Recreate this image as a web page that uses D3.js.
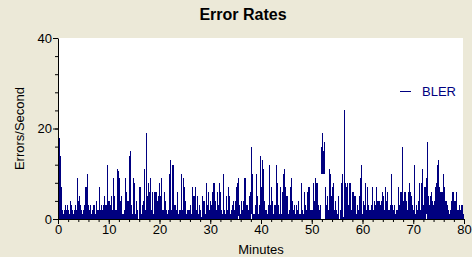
<!DOCTYPE html>
<html>
<head>
<meta charset="utf-8">
<script src="https://cdn.jsdelivr.net/npm/d3@7"></script>
<style>
  html, body { margin: 0; padding: 0; background: #ECE9D8; }
  svg { display: block; font-family: "Liberation Sans", Arial, sans-serif; }
</style>
</head>
<body>
<svg id="chart" width="472" height="257"></svg>
<script>
// --- données : max par colonne (80 min, ~12 s par colonne) ---
const blerMax = [
  // 0 - 13 min
  2, 18, 14, 7, 2, 1, 2, 3, 2, 3, 2, 1, 4, 3, 2, 1, 2, 3, 2, 9, 4, 5, 3, 2, 1, 2, 3, 7, 7, 10,
  3, 2, 3, 1, 2, 3, 3, 1, 4, 2, 2, 7, 2, 3, 2, 3, 5, 3, 3, 12, 4, 4, 3, 5, 2, 9, 5, 2, 2, 11,
  10.5, 9, 4, 5, 1, 1, 2,
  // 13 - 26 min
  9, 6, 4, 4, 14, 15, 3, 1, 9, 8, 1, 4, 2, 0, 7, 7, 1, 3, 4, 11, 2, 19, 5, 8, 6, 9, 2, 6, 1, 6,
  6, 6, 4, 5, 8, 5, 9, 2, 2, 6, 4, 2, 1, 2, 10, 13, 2, 12, 12, 3, 3, 2, 6, 1, 2, 2, 10, 2, 9, 7,
  4, 1, 2, 2, 2, 3, 1, 7,
  // 26 - 40 min
  5, 5, 7, 2, 5, 1, 3, 2, 0.5, 5, 4, 4, 1, 8, 3, 6, 2, 4, 3, 6, 8, 8, 4, 2, 6, 3, 8, 6, 2, 1,
  10, 2, 1, 5, 2, 7, 5, 1, 2, 3, 4, 2, 4, 7, 8, 9, 3, 1, 4, 2, 4, 9, 9, 3, 3, 2, 5, 6, 16, 10,
  1, 1, 3, 10, 5, 1, 3, 14,
  // 40 - 53 min
  7, 13, 11, 4, 2, 2, 1, 3, 12, 3, 7, 4, 1, 3, 3, 12, 8, 3, 1, 7, 1, 6, 10, 11, 7, 5, 5, 1, 2, 7,
  9, 4, 2, 3, 1, 3, 2, 4, 1, 1, 8, 2, 1, 6, 3, 2, 6, 7, 7, 2, 2, 2, 8, 4, 9, 8, 8, 3, 2, 3,
  16, 19, 15, 17, 7, 3, 5, 2,
  // 53 - 67 min
  11, 10, 5, 7, 8, 2, 4, 2, 1, 5, 0, 2, 8, 10, 0.5, 24, 8, 7, 8, 3, 8, 8, 2, 6, 6, 5, 5, 1, 3, 2,
  5, 9, 12, 1, 4, 3, 8, 2, 7, 3, 2, 2, 3, 7, 2, 4, 3, 7, 4, 4, 4, 3, 4, 6, 5, 2, 7, 4, 6, 2,
  2, 3, 10, 3, 2, 3, 1, 2,
  // 67 - 80 min
  2, 7, 3, 6, 6, 16, 4, 6, 6, 4, 2, 6, 8, 6, 5, 3, 2, 12, 1, 3, 2, 4, 8, 2, 8, 11, 3, 7, 7, 9,
  17, 5, 3, 5, 6, 4, 3, 4, 7, 8, 12, 13, 7, 6, 6, 6, 10, 7, 4, 4, 3, 2, 1, 2, 4, 6, 6, 4, 4, 6,
  2, 2, 3, 2, 3, 3, 1
];
// colonnes où la trace ne redescend pas à zéro : [index, plancher]
const blerFloor = [[180, 0.7], [193, 1], [263, 10], [264, 10], [265, 10], [266, 10], [368, 1]];

const xMajorTicks = [0, 10, 20, 30, 40, 50, 60, 70, 80];
const xMinorTicks = d3.range(0, 81, 2);
const yMajorTicks = [0, 20, 40];
const yMinorTicks = d3.range(0, 41, 4);
const seriesName = "BLER";

(function() {
  const svg = d3.select("#chart");
  const left = 58, right = 464, top = 38, bottom = 219;
  const navy = "#000080";

  const x = d3.scaleLinear().domain([0, 80]).range([left, right]);
  const y = d3.scaleLinear().domain([0, 40]).range([bottom, top]);

  // fond blanc de la zone de tracé
  svg.append("rect")
    .attr("x", left).attr("y", top)
    .attr("width", right - left - 1).attr("height", bottom - top)
    .attr("fill", "#fff");

  // colonnes (une par pas de temps)
  const step = 80 / blerMax.length;
  const floorMap = new Map(blerFloor);
  svg.append("g")
    .attr("shape-rendering", "crispEdges")
    .selectAll("rect")
    .data(blerMax)
    .join("rect")
    .attr("x", (d, i) => x(i * step))
    .attr("width", x(step) - x(0))
    .attr("y", d => y(d))
    .attr("height", (d, i) => Math.max(0, y(floorMap.get(i) || 0) - y(d)))
    .attr("fill", navy);

  // --- axes ---
  const font = g => g.selectAll("text")
    .attr("font-family", "Liberation Sans, Arial, sans-serif")
    .attr("font-size", 13).attr("fill", "#000");

  svg.append("g")
    .attr("transform", `translate(0,${bottom})`)
    .call(d3.axisBottom(x).tickValues(xMinorTicks).tickSize(3).tickFormat("").tickSizeOuter(0))
    .call(g => g.select(".domain").remove());
  svg.append("g")
    .attr("transform", `translate(0,${bottom})`)
    .call(d3.axisBottom(x).tickValues(xMajorTicks).tickSize(5).tickPadding(1).tickSizeOuter(0))
    .call(g => g.select(".domain").attr("d", `M${left},0.5H${right}`))
    .call(font)
    .call(g => g.selectAll(".tick line").attr("stroke", "#000"));

  svg.append("g")
    .attr("transform", `translate(${left},0)`)
    .call(d3.axisLeft(y).tickValues(yMinorTicks).tickSize(3).tickFormat("").tickSizeOuter(0))
    .call(g => g.select(".domain").remove());
  svg.append("g")
    .attr("transform", `translate(${left},0)`)
    .call(d3.axisLeft(y).tickValues(yMajorTicks).tickSize(5).tickPadding(1).tickSizeOuter(0))
    .call(font);

  // --- textes ---
  svg.append("text")
    .attr("x", 243).attr("y", 20)
    .attr("text-anchor", "middle")
    .attr("font-size", 16).attr("font-weight", "bold")
    .text("Error Rates");

  svg.append("text")
    .attr("x", 261).attr("y", 254)
    .attr("text-anchor", "middle")
    .attr("font-size", 13)
    .text("Minutes");

  svg.append("text")
    .attr("transform", `translate(24,${(top + bottom) / 2}) rotate(-90)`)
    .attr("text-anchor", "middle")
    .attr("font-size", 13)
    .text("Errors/Second");

  // légende
  const leg = svg.append("g").attr("transform", "translate(400,91)");
  leg.append("line")
    .attr("x1", 0).attr("x2", 11).attr("y1", 0.5).attr("y2", 0.5)
    .attr("stroke", navy);
  leg.append("text")
    .attr("x", 22).attr("y", 5)
    .attr("font-size", 13).attr("fill", navy)
    .text(seriesName);
})();
</script>
</body>
</html>
